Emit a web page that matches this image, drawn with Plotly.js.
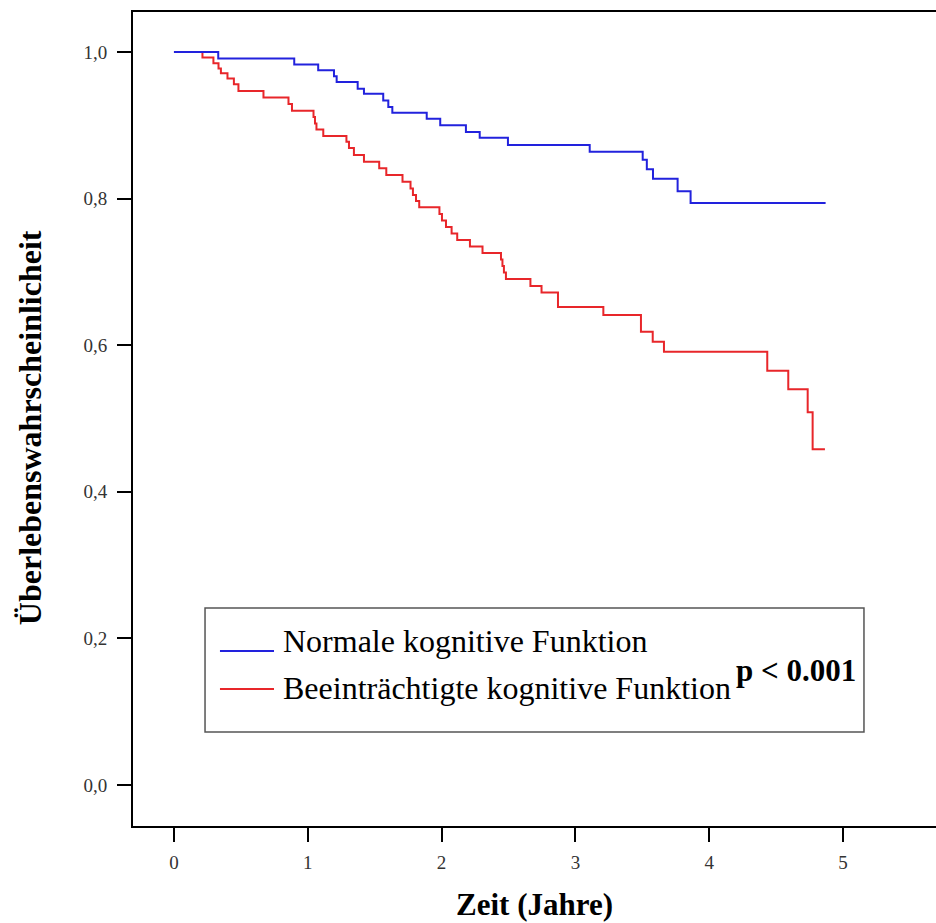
<!DOCTYPE html>
<html>
<head>
<meta charset="utf-8">
<script src="https://cdn.plot.ly/plotly-3.0.1.min.js"></script>
<style>html,body{margin:0;padding:0;background:#fff;}#chart{width:936px;height:923px;}</style>
</head>
<body>
<div id="chart"></div>
<script>
// Kaplan-Meier step data (time in years, survival probability)
const normalTime = [0, 0.331, 0.899, 1.078, 1.196, 1.216, 1.373, 1.420, 1.564, 1.602, 1.632, 1.889, 1.990, 2.182, 2.285, 2.496, 3.107, 3.503, 3.534, 3.580, 3.764, 3.861, 4.870];
const normalSurv = [1.000, 0.991, 0.983, 0.975, 0.967, 0.959, 0.950, 0.943, 0.934, 0.925, 0.917, 0.909, 0.900, 0.891, 0.883, 0.873, 0.864, 0.853, 0.840, 0.827, 0.810, 0.794, 0.794];

const impairedTime = [0, 0.213, 0.295, 0.333, 0.351, 0.400, 0.448, 0.482, 0.669, 0.856, 0.882, 1.043, 1.054, 1.065, 1.116, 1.289, 1.308, 1.345, 1.420, 1.534, 1.587, 1.708, 1.768, 1.786, 1.809, 1.833, 1.984, 2.003, 2.033, 2.075, 2.117, 2.212, 2.306, 2.444, 2.455, 2.466, 2.481, 2.664, 2.747, 2.870, 3.209, 3.490, 3.578, 3.662, 4.434, 4.591, 4.736, 4.773, 4.865];
const impairedSurv = [1.000, 0.9925, 0.9846, 0.9775, 0.9709, 0.9638, 0.9559, 0.9468, 0.9379, 0.9291, 0.9199, 0.9113, 0.9025, 0.8943, 0.8854, 0.8776, 0.8690, 0.8595, 0.8503, 0.8413, 0.8322, 0.8231, 0.8138, 0.8049, 0.7967, 0.7881, 0.7790, 0.7701, 0.7613, 0.7524, 0.7435, 0.7347, 0.7258, 0.7169, 0.7081, 0.6992, 0.6903, 0.6808, 0.6719, 0.6521, 0.6412, 0.6184, 0.6048, 0.5911, 0.5652, 0.5398, 0.5085, 0.4580, 0.4580];

const seriesNames = ["Normale kognitive Funktion", "Beeinträchtigte kognitive Funktion"];
const xTickVals = [0, 1, 2, 3, 4, 5];
const xTickText = ["0", "1", "2", "3", "4", "5"];
const yTickVals = [0, 0.2, 0.4, 0.6, 0.8, 1.0];
const yTickText = ["0,0", "0,2", "0,4", "0,6", "0,8", "1,0"];
const pText = "p < 0.001";
const xTitle = "Zeit (Jahre)";
const yTitle = "Überlebenswahrscheinlicheit";

const BLUE = "#2222dd";
const RED = "#e8262a";
const SERIF = "Liberation Serif, Times New Roman, serif";

const traces = [
  {x: impairedTime, y: impairedSurv, mode: "lines", line: {shape: "hv", color: RED, width: 2}, name: seriesNames[1], showlegend: false, hoverinfo: "skip"},
  {x: normalTime, y: normalSurv, mode: "lines", line: {shape: "hv", color: BLUE, width: 2}, name: seriesNames[0], showlegend: false, hoverinfo: "skip"}
];

const axisCommon = {
  showline: true, linecolor: "#000", linewidth: 2,
  ticks: "outside", ticklen: 14, tickwidth: 2, tickcolor: "#000",
  showgrid: false, zeroline: false,
  tickfont: {family: SERIF, size: 19, color: "#333"}
};

const layout = {
  width: 936, height: 923,
  margin: {l: 133, r: 0, t: 12, b: 97},
  paper_bgcolor: "#fff", plot_bgcolor: "#fff",
  showlegend: false,
  xaxis: Object.assign({}, axisCommon, {
    range: [-0.306, 5.695], tickvals: xTickVals, ticktext: xTickText, mirror: true,
    ticklabelstandoff: 4,
    title: {text: "<b>" + xTitle + "</b>", font: {family: SERIF, size: 31, color: "#000"}, standoff: 22}
  }),
  yaxis: Object.assign({}, axisCommon, {
    range: [-0.0559, 1.0546], tickvals: yTickVals, ticktext: yTickText,
    ticklabelstandoff: 6
  }),
  shapes: [
    {type: "rect", xref: "paper", yref: "paper", x0: 0.0897, x1: 0.9103, y0: 0.1155, y1: 0.2678, line: {color: "#555", width: 1.5}},
    {type: "line", xref: "paper", yref: "paper", x0: 0.1083, x1: 0.1756, y0: 0.2150, y1: 0.2150, line: {color: BLUE, width: 2}},
    {type: "line", xref: "paper", yref: "paper", x0: 0.1083, x1: 0.1756, y0: 0.1683, y1: 0.1683, line: {color: RED, width: 2}}
  ],
  annotations: [
    {xref: "paper", yref: "paper", x: -0.128, y: 0.489, xanchor: "center", yanchor: "middle", textangle: -90, showarrow: false, text: "<b>" + yTitle + "</b>", font: {family: SERIF, size: 32, color: "#000"}},
    {xref: "paper", yref: "paper", x: 0.1840, y: 0.2270, xanchor: "left", yanchor: "middle", showarrow: false, text: seriesNames[0], font: {family: SERIF, size: 32, color: "#000"}},
    {xref: "paper", yref: "paper", x: 0.1840, y: 0.1700, xanchor: "left", yanchor: "middle", showarrow: false, text: seriesNames[1], font: {family: SERIF, size: 32, color: "#000"}},
    {xref: "paper", yref: "paper", x: 0.7480, y: 0.1910, xanchor: "left", yanchor: "middle", showarrow: false, text: "<b>" + pText + "</b>", font: {family: SERIF, size: 31, color: "#000"}}
  ]
};

Plotly.newPlot("chart", traces, layout, {displayModeBar: false, staticPlot: true});
</script>
</body>
</html>
